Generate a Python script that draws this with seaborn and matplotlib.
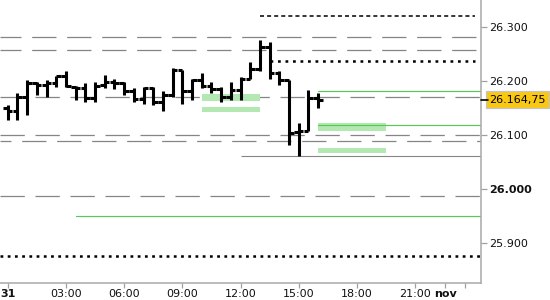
import numpy as np
import pandas as pd
import matplotlib
matplotlib.use("Agg")
import matplotlib.pyplot as plt
import seaborn as sns
from matplotlib.transforms import blended_transform_factory

# ---------------- data ----------------
bar_open = [26149, 26143, 26170, 26195, 26192, 26195, 26208, 26189, 26186, 26167,
            26192, 26198, 26195, 26180, 26166, 26186, 26161, 26174, 26219, 26180,
            26201, 26190, 26184, 26170, 26182, 26204, 26221, 26263, 26215, 26201,
            26104, 26106, 26167]
bar_high = [26155, 26177, 26201, 26198, 26201, 26209, 26217, 26190, 26195, 26198,
            26211, 26204, 26198, 26186, 26189, 26188, 26180, 26223, 26220, 26204,
            26214, 26198, 26188, 26198, 26206, 26235, 26275, 26272, 26217, 26201,
            26121, 26183, 26178]
bar_low = [26128, 26127, 26137, 26174, 26170, 26189, 26189, 26164, 26161, 26161,
           26186, 26184, 26174, 26161, 26157, 26155, 26143, 26170, 26157, 26164,
           26186, 26178, 26161, 26164, 26164, 26204, 26217, 26203, 26192, 26081,
           26061, 26106, 26150]
bar_close = [26143, 26170, 26195, 26192, 26196, 26208, 26190, 26186, 26167, 26190,
             26198, 26195, 26180, 26166, 26186, 26161, 26174, 26219, 26180, 26201,
             26190, 26184, 26170, 26182, 26204, 26221, 26263, 26215, 26201, 26103,
             26107, 26167, 26164.75]
bar_interval_h = 0.5            # 30-minute bars starting 31 Oct 00:00
last_price = 26164.75
last_price_label = "26.164,75"

gray_dash_levels = [26280, 26257, 26170, 26099, 26089, 25987]
gray_solid_level = 26060
gray_solid_start_h = 12.0
black_dash_level = 26320
black_dash_span_h = (13.0, 24.1)
black_dot_level_top = 26236.5
black_dot_top_span_h = (13.5, 24.1)
black_dot_level_bottom = 25876

green_levels = [26181, 26117, 25950]
green_starts_h = [16.0, 16.0, 3.5]
green_end_h = 24.4

zone_start_h = [10.0, 10.0, 16.0, 16.0]
zone_end_h = [13.0, 13.0, 19.5, 19.5]
zone_low = [26163, 26142, 26106, 26066]
zone_high = [26175, 26151, 26121, 26075]

x_tick_hours = [0, 3, 6, 9, 12, 15, 18, 21, 22.56]
x_tick_labels = ["31", "03:00", "06:00", "09:00", "12:00", "15:00", "18:00", "21:00", "nov"]
x_minor_hours = [23.56]
y_ticks = [25900, 26000, 26100, 26200, 26300]
y_tick_labels = ["25.900", "26.000", "26.100", "26.200", "26.300"]

# ---------------- style ----------------
sns.set_theme(style="white")
plt.rcParams["font.family"] = ["DejaVu Sans"]
plt.rcParams["lines.scale_dashes"] = False

fig = plt.figure(figsize=(5.5, 3.0), dpi=100)
ax = fig.add_axes([0.0, 1 - 282.6 / 300, 480.5 / 550, 282.6 / 300])
ax.set_facecolor("white")

gray = "#858585"
green = "#55c855"
light_green = "#b3e8b3"

# gray dashed levels
dash_offsets = [2.4, 2.4, 0.0, 0.0, 9.6, 0.0]
for lvl, off in zip(gray_dash_levels, dash_offsets):
    ax.axhline(lvl, color=gray, lw=0.9, ls=(off, (17.5, 7.7)), zorder=1)

ax.hlines(gray_solid_level, gray_solid_start_h, 24.5, color=gray, lw=0.8, zorder=1)
ax.hlines(black_dash_level, *black_dash_span_h, color="black", lw=1.1,
          ls=(0, (2.9, 2.2)), zorder=2)
ax.hlines(black_dot_level_top, *black_dot_top_span_h, color="black", lw=1.8,
          ls=(0, (2.0, 3.4)), zorder=2)
ax.axhline(black_dot_level_bottom, color="black", lw=1.8, ls=(0, (2.0, 3.2)), zorder=2)

# light green zones
for s, e, lo, hi in zip(zone_start_h, zone_end_h, zone_low, zone_high):
    ax.fill_between([s, e], lo, hi, color=light_green, lw=0, zorder=1)

# green thin levels via seaborn
green_df = pd.DataFrame({
    "t": [v for s in green_starts_h for v in (s, green_end_h)],
    "price": [v for lvl in green_levels for v in (lvl, lvl)],
    "level": [i for i in range(len(green_levels)) for _ in (0, 1)],
})
sns.lineplot(data=green_df, x="t", y="price", units="level", estimator=None,
             color=green, lw=0.85, ax=ax, legend=False, zorder=1)

# OHLC bars
t = np.arange(len(bar_open)) * bar_interval_h
tick_w = 0.24
ax.vlines(t, bar_low, bar_high, color="black", lw=2.2, capstyle="butt", zorder=3)
ax.hlines(bar_open, t - tick_w, t, color="black", lw=2.2, capstyle="butt", zorder=3)
ax.hlines(bar_close, t, t + tick_w, color="black", lw=2.2, capstyle="butt", zorder=3)

# axes
ax.set_xlim(-0.397, 24.37)
ax.set_ylim(25826, 26349.4)
ax.set_xlabel("")
ax.set_ylabel("")
for side in ("left", "top"):
    ax.spines[side].set_visible(False)
for side in ("right", "bottom"):
    ax.spines[side].set_color("#a8a8a8")
    ax.spines[side].set_linewidth(1.1)

ax.yaxis.tick_right()
ax.set_yticks(y_ticks)
ax.set_yticklabels(y_tick_labels)
ax.set_xticks(x_tick_hours)
ax.set_xticklabels(x_tick_labels)
ax.set_xticks(x_minor_hours, minor=True)
ax.tick_params(axis="y", which="major", right=True, left=False, length=4.5, width=0.9,
               color="#a0a0a0", labelsize=8, pad=1.5, labelcolor="#111111")
ax.tick_params(axis="x", which="both", bottom=True, length=3.6, width=0.9,
               color="#a0a0a0", labelsize=8, pad=1.0, labelcolor="#111111")
for lab in ax.get_xticklabels():
    if lab.get_text() in ("31", "nov"):
        lab.set_fontweight("bold")
for lab in ax.get_yticklabels():
    if lab.get_text() == "26.000":
        lab.set_fontweight("bold")

# last price marker and label
tr = blended_transform_factory(ax.transAxes, ax.transData)
ax.plot([1.0, 1.0 + 7 / 480.5], [last_price, last_price], transform=tr,
        color="black", lw=1.2, clip_on=False, zorder=5)
ax.annotate(last_price_label, xy=(1.0, last_price), xycoords=tr,
            xytext=(6.3, 0), textcoords="offset points", fontsize=8,
            va="center", ha="left", color="black",
            bbox=dict(boxstyle="square,pad=0.3", fc="#f8c814", ec="#c4c4c4", lw=0.9),
            annotation_clip=False)

fig.savefig("out.png", dpi=100)
